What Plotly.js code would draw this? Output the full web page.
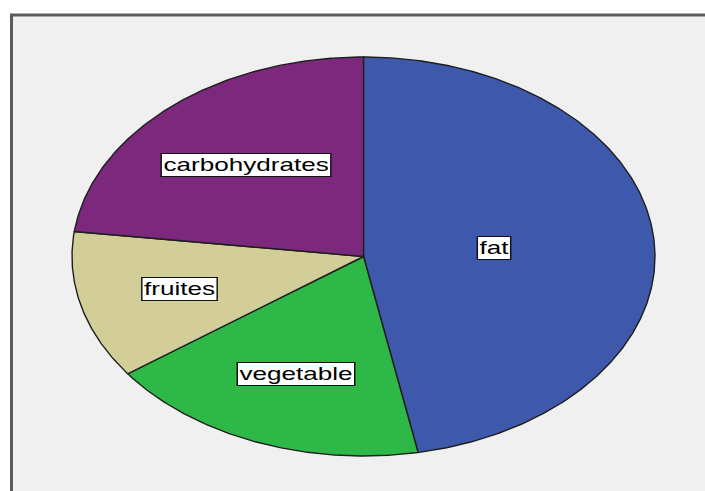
<!DOCTYPE html>
<html><head><meta charset="utf-8">
<script src="https://cdn.plot.ly/plotly-3.0.1.min.js"></script>
<style>html,body{margin:0;padding:0;background:#fff;overflow:hidden}</style>
</head><body><div id="chart" style="width:705px;height:491px"></div>
<script>
// ---- data ----
const categories = ['fat', 'vegetable', 'fruites', 'carbohydrates'];
const values = [47, 18, 12, 23];
const colors = ['#3E58AC', '#2EB848', '#D3CE97', '#7C287D'];

// ---- layout constants (pixels) ----
const W = 705, H = 491;
const CX = 363.5, CY = 256.5, RX = 291.5, RY = 199.5;
const TEXT_STRETCH = 1.45;

const total = values.reduce((a, b) => a + b, 0);
const traces = [];
const annotations = [];
let start = 0;
values.forEach((v, i) => {
  const span = v / total * 2 * Math.PI;
  const end = start + span;
  const xs = [0], ys = [0];
  const n = Math.max(2, Math.ceil(span / (Math.PI / 360)));
  for (let k = 0; k <= n; k++) {
    const t = start + span * k / n;
    xs.push(Math.sin(t)); ys.push(Math.cos(t));
  }
  xs.push(0); ys.push(0);
  traces.push({
    type: 'scatter', mode: 'lines', x: xs, y: ys, fill: 'toself',
    fillcolor: colors[i], line: {color: '#1e1e1e', width: 1.4},
    name: categories[i], hoverinfo: 'skip', showlegend: false
  });
  const mid = start + span / 2;
  const r = 4 * Math.sin(span / 2) / (3 * span);
  annotations.push({
    x: r * Math.sin(mid), y: r * Math.cos(mid), xref: 'x', yref: 'y',
    text: categories[i], showarrow: false, xanchor: 'center', yanchor: 'middle',
    font: {family: 'Liberation Sans, Arial, sans-serif', size: 18, color: '#000'},
    bgcolor: '#ffffff', bordercolor: '#111', borderwidth: 1, borderpad: 1
  });
  start = end;
});

const layout = {
  width: W, height: H,
  margin: {l: 0, r: 0, t: 0, b: 0, pad: 0},
  paper_bgcolor: '#ffffff', plot_bgcolor: 'rgba(0,0,0,0)',
  showlegend: false,
  xaxis: {range: [-CX / RX, (W - CX) / RX], visible: false, fixedrange: true},
  yaxis: {range: [-(H - CY) / RY, CY / RY], visible: false, fixedrange: true},
  shapes: [{
    type: 'rect', xref: 'paper', yref: 'paper', layer: 'below',
    x0: 11.5 / W, x1: 1.05, y0: -0.05, y1: 1 - 15 / H,
    fillcolor: '#f0f0f0', line: {color: '#5c5c5c', width: 3}
  }],
  annotations: annotations
};

Plotly.newPlot('chart', traces, layout, {staticPlot: true, displayModeBar: false}).then(gd => {
  gd.querySelectorAll('g.annotation').forEach(g => {
    const b = g.getBBox();
    const cx = b.x + b.width / 2;
    const ex = g.getAttribute('transform') || '';
    g.setAttribute('transform', ex + ` translate(${cx},0) scale(${TEXT_STRETCH},1) translate(${-cx},0)`);
  });
});
</script>
</body></html>
